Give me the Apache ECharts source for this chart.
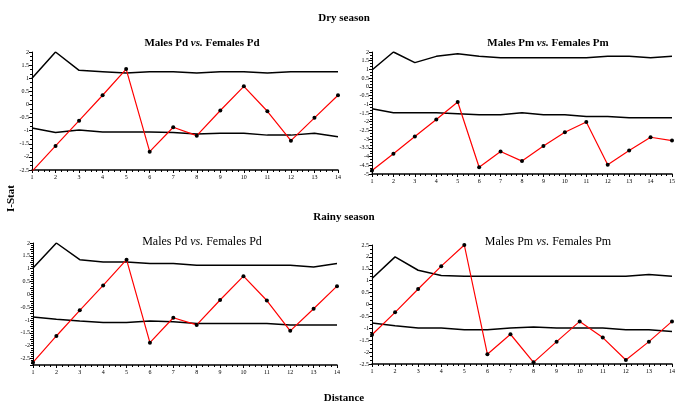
<!DOCTYPE html>
<html>
<head>
<meta charset="utf-8">
<script src="https://cdn.jsdelivr.net/npm/echarts@6/dist/echarts.min.js"></script>
<style>
  html, body { margin: 0; padding: 0; background: #fff; }
  #chart { width: 678px; height: 404px; }
</style>
</head>
<body>
<div id="chart"></div>
<script>
// Distance classes for each panel
const distPd = [1, 2, 3, 4, 5, 6, 7, 8, 9, 10, 11, 12, 13, 14];
const distPmDry = [1, 2, 3, 4, 5, 6, 7, 8, 9, 10, 11, 12, 13, 14, 15];
const distPmRainy = [1, 2, 3, 4, 5, 6, 7, 8, 9, 10, 11, 12, 13, 14];

// Dry season, Males Pd vs. Females Pd
const dryPdObs = [-2.55, -1.58, -0.62, 0.35, 1.35, -1.8, -0.87, -1.19, -0.23, 0.69, -0.26, -1.38, -0.51, 0.35];
const dryPdUpper = [1.0, 2.0, 1.3, 1.25, 1.2, 1.25, 1.25, 1.2, 1.25, 1.25, 1.2, 1.25, 1.25, 1.25];
const dryPdLower = [-0.9, -1.07, -0.97, -1.05, -1.05, -1.05, -1.07, -1.13, -1.1, -1.1, -1.17, -1.17, -1.1, -1.23];

// Dry season, Males Pm vs. Females Pm
const dryPmObs = [-4.8, -3.84, -2.85, -1.87, -0.87, -4.61, -3.71, -4.26, -3.4, -2.6, -2.02, -4.47, -3.65, -2.89, -3.08];
const dryPmUpper = [0.97, 2.0, 1.39, 1.75, 1.9, 1.75, 1.67, 1.67, 1.67, 1.67, 1.67, 1.75, 1.75, 1.67, 1.75];
const dryPmLower = [-1.26, -1.49, -1.49, -1.49, -1.54, -1.6, -1.6, -1.49, -1.6, -1.6, -1.7, -1.7, -1.77, -1.77, -1.77];

// Rainy season, Males Pd vs. Females Pd
const rainyPdObs = [-2.65, -1.62, -0.62, 0.35, 1.35, -1.88, -0.91, -1.19, -0.22, 0.71, -0.24, -1.42, -0.56, 0.32];
const rainyPdUpper = [1.03, 2.0, 1.35, 1.26, 1.26, 1.2, 1.2, 1.13, 1.13, 1.13, 1.13, 1.13, 1.07, 1.2];
const rainyPdLower = [-0.88, -0.97, -1.04, -1.1, -1.1, -1.04, -1.07, -1.13, -1.13, -1.13, -1.13, -1.19, -1.19, -1.19];

// Rainy season, Males Pm vs. Females Pm
const rainyPmObs = [-1.27, -0.33, 0.65, 1.61, 2.5, -2.09, -1.25, -2.43, -1.56, -0.71, -1.39, -2.33, -1.56, -0.71];
const rainyPmUpper = [1.09, 2.0, 1.44, 1.22, 1.19, 1.19, 1.19, 1.19, 1.19, 1.19, 1.19, 1.19, 1.26, 1.19];
const rainyPmLower = [-0.78, -0.89, -0.99, -0.99, -1.06, -1.06, -0.99, -0.95, -0.99, -0.99, -0.99, -1.06, -1.06, -1.13];

const serif = 'Liberation Serif';
const pair = (xs, ys) => xs.map((x, i) => [x, ys[i]]);

const panels = [
  { x: distPd, obs: dryPdObs, up: dryPdUpper, lo: dryPdLower, ymin: -2.5, ymax: 2, yint: 0.5,
    grid: { left: 32, top: 52, width: 306, height: 118 } },
  { x: distPmDry, obs: dryPmObs, up: dryPmUpper, lo: dryPmLower, ymin: -5, ymax: 2, yint: 0.5,
    grid: { left: 372, top: 52, width: 304, height: 122 } },
  { x: distPd, obs: rainyPdObs, up: rainyPdUpper, lo: rainyPdLower, ymin: -2.75, ymax: 2, yint: 0.25,
    grid: { left: 33, top: 243, width: 304, height: 122 } },
  { x: distPmRainy, obs: rainyPmObs, up: rainyPmUpper, lo: rainyPmLower, ymin: -2.5, ymax: 2.5, yint: 0.5,
    grid: { left: 372, top: 245, width: 305, height: 119 } }
];

const grids = [], xAxes = [], yAxes = [], series = [];
panels.forEach((p, i) => {
  grids.push(p.grid);
  xAxes.push({
    type: 'value', gridIndex: i, min: 1, max: p.x[p.x.length - 1], interval: 1,
    axisLine: { onZero: false, lineStyle: { color: '#000', width: 1.5 } },
    axisTick: { length: 3, lineStyle: { color: '#000' } },
    minorTick: { show: true, splitNumber: 4, length: 2, lineStyle: { color: '#000' } },
    axisLabel: { fontFamily: serif, fontSize: 6, color: '#000', margin: 4 },
    splitLine: { show: false }
  });
  yAxes.push({
    type: 'value', gridIndex: i, min: p.ymin, max: p.ymax, interval: p.yint,
    axisLine: { show: true, onZero: false, lineStyle: { color: '#000', width: 1 } },
    axisTick: { show: true, length: 3, lineStyle: { color: '#000' } },
    minorTick: { show: true, splitNumber: 3, length: 2, lineStyle: { color: '#000' } },
    axisLabel: {
      fontFamily: serif, fontSize: 6, color: '#000', margin: 3,
      formatter: v => (Math.abs(v * 2 - Math.round(v * 2)) < 1e-6 ? String(+v.toFixed(1)) : '')
    },
    splitLine: { show: false }
  });
  const base = { xAxisIndex: i, yAxisIndex: i, type: 'line', animation: false, silent: true };
  series.push(Object.assign({}, base, {
    data: pair(p.x, p.up), showSymbol: false, lineStyle: { color: '#000', width: 1.5 }
  }));
  series.push(Object.assign({}, base, {
    data: pair(p.x, p.lo), showSymbol: false, lineStyle: { color: '#000', width: 1.5 }
  }));
  series.push(Object.assign({}, base, {
    data: pair(p.x, p.obs), symbol: 'circle', symbolSize: 4,
    itemStyle: { color: '#000' }, lineStyle: { color: '#ff0000', width: 1.2 }
  }));
});

// Panel headings with an italic "vs."
const panelTitle = (text, left, top, weight, size) => ({
  text: text.replace(' vs. ', ' {i|vs.} '),
  left: left, top: top, textAlign: 'center',
  textStyle: {
    fontFamily: serif, fontSize: size, fontWeight: weight, color: '#000',
    rich: { i: { fontFamily: serif, fontSize: size, fontWeight: weight, fontStyle: 'italic', color: '#000' } }
  }
});
const headStyle = { fontFamily: serif, fontSize: 11, fontWeight: 'bold', color: '#000' };

const chart = echarts.init(document.getElementById('chart'), null, { renderer: 'canvas' });
chart.setOption({
  backgroundColor: '#fff',
  animation: false,
  title: [
    { text: 'Dry season', left: 339, top: 8, textAlign: 'center', textStyle: headStyle },
    panelTitle('Males Pd vs. Females Pd', 197, 33, 'bold', 11),
    panelTitle('Males Pm vs. Females Pm', 543, 33, 'bold', 11),
    { text: 'Rainy season', left: 339, top: 207, textAlign: 'center', textStyle: headStyle },
    panelTitle('Males Pd vs. Females Pd', 197, 231, 'normal', 12),
    panelTitle('Males Pm vs. Females Pm', 543, 231, 'normal', 12),
    { text: 'Distance', left: 339, top: 388, textAlign: 'center', textStyle: headStyle }
  ],
  graphic: [
    { type: 'text', x: 6, y: 212, rotation: Math.PI / 2,
      style: { text: 'I-Stat', font: 'bold 11px "Liberation Serif"', fill: '#000' } }
  ],
  grid: grids,
  xAxis: xAxes,
  yAxis: yAxes,
  series: series
});
</script>
</body>
</html>
